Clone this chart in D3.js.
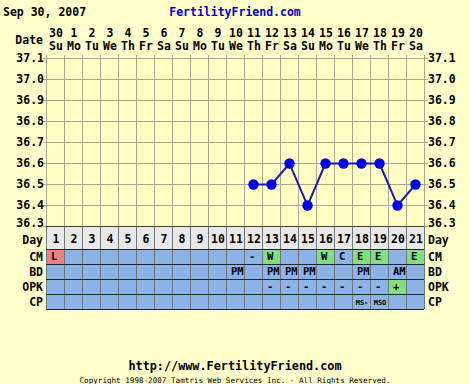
<!DOCTYPE html>
<html>
<head>
<meta charset="utf-8">
<style>
  html, body { margin: 0; padding: 0; background: #ffffcc; }
  svg { display: block; }
  text { font-family: "DejaVu Sans Mono", monospace; font-weight: bold; fill: #000; }
</style>
<script src="https://d3js.org/d3.v7.min.js"></script>
</head>
<body>
<svg id="chart" width="470" height="384"></svg>
<script>
// chart data
var cycleDays = d3.range(1, 22);
var dates = ["30","1","2","3","4","5","6","7","8","9","10","11","12","13","14","15","16","17","18","19","20"];
var weekdays = ["Su","Mo","Tu","We","Th","Fr","Sa","Su","Mo","Tu","We","Th","Fr","Sa","Su","Mo","Tu","We","Th","Fr","Sa"];
var tempTicks = [36.3, 36.4, 36.5, 36.6, 36.7, 36.8, 36.9, 37.0, 37.1];
var tempDays = [12, 13, 14, 15, 16, 17, 18, 19, 20, 21];
var temps = [36.5, 36.5, 36.6, 36.4, 36.6, 36.6, 36.6, 36.6, 36.4, 36.5];
var rowNames = ["CM", "BD", "OPK", "CP"];
// [day, text, colour class]
var cmCells = [[1, "L", "red"], [12, "-", ""], [13, "W", "green"], [16, "W", "green"], [17, "C", ""], [18, "E", "green"], [19, "E", "green"], [21, "E", "green"]];
var bdCells = [[11, "PM", ""], [13, "PM", ""], [14, "PM", ""], [15, "PM", ""], [18, "PM", ""], [20, "AM", ""]];
var opkCells = [[13, "-", ""], [14, "-", ""], [15, "-", ""], [16, "-", ""], [17, "-", ""], [18, "-", ""], [19, "-", ""], [20, "+", "green"]];
var cpCells = [[18, "MS-", ""], [19, "MSO", ""]];

var svg = d3.select("#chart");
var plotLeft = 46, plotRight = 424, plotTop = 58, plotBottom = 226;

var x = d3.scaleBand().domain(cycleDays).range([plotLeft, plotRight]);
var y = d3.scaleLinear().domain([36.3, 37.1]).range([plotBottom, plotTop]);
var rowY = d3.scaleBand().domain(rowNames).range([249, 309]);
var fs = 11.5;

// plot background
svg.append("rect").attr("x", plotLeft).attr("y", plotTop).attr("width", plotRight - plotLeft).attr("height", plotBottom - plotTop)
  .attr("fill", "#ffffc4");

// grid
svg.append("g").selectAll("line").data(tempTicks).enter().append("line")
  .attr("x1", plotLeft - 3).attr("x2", plotRight + 4)
  .attr("y1", function (d) { return y(d) + 0.5; }).attr("y2", function (d) { return y(d) + 0.5; })
  .attr("stroke", "#a8a890");
svg.append("g").selectAll("line").data(d3.range(0, 22)).enter().append("line")
  .attr("x1", function (d) { return plotLeft + d * x.bandwidth() + 0.5; })
  .attr("x2", function (d) { return plotLeft + d * x.bandwidth() + 0.5; })
  .attr("y1", plotTop - 3).attr("y2", plotBottom)
  .attr("stroke", "#a8a890");

// temperature labels (lowest one sits a little higher, above the Day row)
function labelY(d) { return y(d) + (d === 36.3 ? 1 : 4); }
svg.append("g").selectAll("text").data(tempTicks).enter().append("text")
  .attr("x", plotLeft - 2).attr("y", labelY)
  .attr("text-anchor", "end").attr("font-size", fs)
  .text(function (d) { return d.toFixed(1); });
svg.append("g").selectAll("text").data(tempTicks).enter().append("text")
  .attr("x", plotRight + 4).attr("y", labelY)
  .attr("font-size", fs)
  .text(function (d) { return d.toFixed(1); });

// date header
svg.append("text").attr("x", 43).attr("y", 44).attr("text-anchor", "end").attr("font-size", fs).text("Date");
svg.append("g").selectAll("text").data(dates).enter().append("text")
  .attr("x", function (d, i) { return x(cycleDays[i]) + x.bandwidth() / 2 + 1; })
  .attr("y", 37).attr("text-anchor", "middle").attr("font-size", fs)
  .text(function (d) { return d; });
svg.append("g").selectAll("text").data(weekdays).enter().append("text")
  .attr("x", function (d, i) { return x(cycleDays[i]) + x.bandwidth() / 2 + 1; })
  .attr("y", 50).attr("text-anchor", "middle").attr("font-size", fs)
  .text(function (d) { return d; });

// day row
svg.append("rect").attr("x", plotLeft).attr("y", plotBottom).attr("width", plotRight - plotLeft).attr("height", 23)
  .attr("fill", "#e8e8e8");
svg.append("g").selectAll("text").data(cycleDays).enter().append("text")
  .attr("x", function (d) { return x(d) + x.bandwidth() / 2 + 1; })
  .attr("y", 243).attr("text-anchor", "middle").attr("font-size", fs)
  .text(function (d) { return d; });
svg.append("text").attr("x", 43).attr("y", 244).attr("text-anchor", "end").attr("font-size", fs).text("Day");
svg.append("text").attr("x", plotRight + 4).attr("y", 244).attr("font-size", fs).text("Day");

// observation rows
svg.append("rect").attr("x", plotLeft).attr("y", 249).attr("width", plotRight - plotLeft).attr("height", 60)
  .attr("fill", "#8cb4e8");
var colours = { red: "#f08080", green: "#80e080" };
[cmCells, bdCells, opkCells, cpCells].forEach(function (cells, r) {
  var name = rowNames[r];
  var g = svg.append("g");
  g.selectAll("rect").data(cells.filter(function (c) { return c[2]; })).enter().append("rect")
    .attr("x", function (c) { return x(c[0]) + 1; })
    .attr("y", rowY(name) + 1)
    .attr("width", x.bandwidth() - 1).attr("height", rowY.bandwidth() - 1)
    .attr("fill", function (c) { return colours[c[2]]; });
  g.selectAll("text").data(cells).enter().append("text")
    .attr("x", function (c) { return x(c[0]) + (c[1].length > 2 ? x.bandwidth() / 2 + 1 : 5); })
    .attr("y", rowY(name) + (name == "CP" ? 10.5 : 11))
    .attr("text-anchor", function (c) { return c[1].length > 2 ? "middle" : "start"; })
    .attr("font-size", name == "CP" ? 7 : 10.5)
    .text(function (c) { return c[1]; });
  svg.append("text").attr("x", 43).attr("y", rowY(name) + 11.5).attr("text-anchor", "end").attr("font-size", fs).text(name);
  svg.append("text").attr("x", plotRight + 4).attr("y", rowY(name) + 11.5).attr("font-size", fs).text(name);
});

// row grid
svg.append("g").selectAll("line").data(d3.range(0, 22)).enter().append("line")
  .attr("x1", function (d) { return plotLeft + d * x.bandwidth() + 0.5; })
  .attr("x2", function (d) { return plotLeft + d * x.bandwidth() + 0.5; })
  .attr("y1", plotBottom).attr("y2", 309)
  .attr("stroke", "#707878");
svg.append("g").selectAll("line").data([249, 264, 279, 294, 309]).enter().append("line")
  .attr("x1", plotLeft).attr("x2", plotRight)
  .attr("y1", function (d) { return d + 0.5; }).attr("y2", function (d) { return d + 0.5; })
  .attr("stroke", "#202830");
svg.append("line").attr("x1", plotLeft).attr("x2", plotRight).attr("y1", plotBottom + 0.5).attr("y2", plotBottom + 0.5).attr("stroke", "#404040");

// temperature line and points
var pts = temps.map(function (t, i) { return [x(tempDays[i]) + x.bandwidth() / 2 + 0.5, y(t) + 0.5]; });
svg.append("path").datum(pts).attr("d", d3.line()).attr("fill", "none")
  .attr("stroke", "#1c1ca8").attr("stroke-width", 2);
svg.append("g").selectAll("circle").data(pts).enter().append("circle")
  .attr("cx", function (p) { return p[0]; }).attr("cy", function (p) { return p[1]; })
  .attr("r", 5.2).attr("fill", "#0000ee");

// titles
svg.append("text").attr("x", 3).attr("y", 16).attr("font-size", fs).text("Sep 30, 2007");
svg.append("text").attr("x", 235).attr("y", 16).attr("text-anchor", "middle").attr("font-size", fs)
  .style("fill", "#0000cc").text("FertilityFriend.com");
svg.append("text").attr("x", 235).attr("y", 370).attr("text-anchor", "middle").attr("font-size", 11.8)
  .text("http://www.FertilityFriend.com");
svg.append("text").attr("x", 235).attr("y", 383).attr("text-anchor", "middle").attr("font-size", 7.6)
  .style("font-weight", "normal").text("Copyright 1998-2007 Tamtris Web Services Inc. - All Rights Reserved.");
</script>
</body>
</html>
